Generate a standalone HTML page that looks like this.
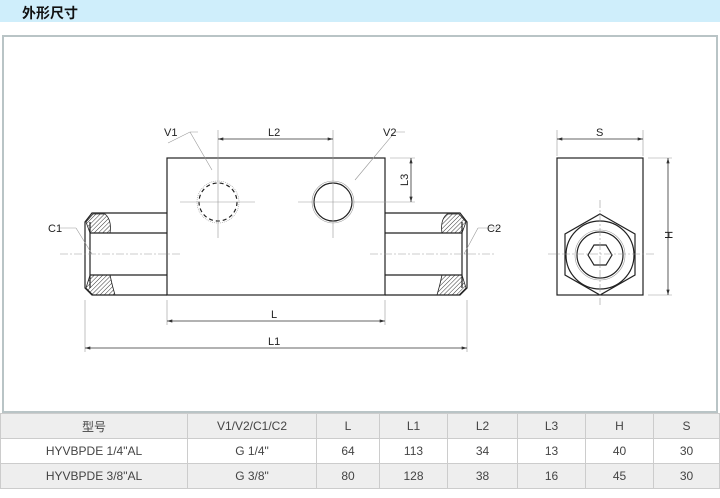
<!DOCTYPE html>
<html><head><meta charset="utf-8"><style>
body{margin:0;width:720px;height:498px;background:#fff;font-family:"Liberation Sans","Noto Sans CJK SC",sans-serif;overflow:hidden;position:relative}
.hd{position:absolute;left:0;top:0;width:720px;height:22px;background:#cfeefb}
.hd span{position:absolute;left:22px;top:3px;font-size:14px;font-weight:bold;color:#111}
.fr{position:absolute;left:2px;top:35px;width:712px;height:374px;border:2px solid #b9c4c6}
table{position:absolute;left:0;top:413px;width:720px;border-collapse:collapse;font-size:12px;color:#444}
td{border:1px solid #ccc;text-align:center;height:24px;padding:0}
tr.g td{background:#eee}
</style></head><body>
<div class="hd"><span>外形尺寸</span></div>
<div class="fr"></div>
<svg style="position:absolute;left:0;top:0" width="720" height="498" font-family="Liberation Sans, sans-serif" font-size="11" fill="none">
<defs><pattern id="h" width="3" height="3" patternUnits="userSpaceOnUse" patternTransform="rotate(45)"><line x1="0" y1="0" x2="0" y2="3" stroke="#333" stroke-width="1"/></pattern>
<marker id="a" viewBox="0 0 10 6" refX="10" refY="3" markerWidth="8" markerHeight="4" orient="auto-start-reverse"><path d="M0,0L10,3L0,6z" fill="#333"/></marker></defs>
<g stroke="#222" stroke-width="1.2">
<rect x="167" y="158" width="218" height="137"/>
<path d="M167,213H92L85,222V288L92,295H167M167,233H90M167,275H90M90,222V288"/>
<path d="M385,213H460L467,222V288L460,295H385M385,233H462M385,275H462M462,222V288"/>
<circle cx="333" cy="202" r="19"/>
<circle cx="218" cy="202" r="19" stroke-dasharray="4,3"/>
<rect x="557" y="158" width="86" height="137"/>
<polygon points="600,214 635,234 635,275 600,295 565,275 565,234"/>
<circle cx="600" cy="255" r="34"/>
<circle cx="600" cy="255" r="23"/>
<polygon points="588,255 594,245 606,245 612,255 606,265 594,265"/>
</g>
<g fill="url(#h)" stroke="#222" stroke-width="0.8">
<path d="M86,222L93,214H105Q112,220 110,233H90Z"/><path d="M86,288L93,295H115Q112,285 110,275H90Z"/>
<path d="M466,222L459,214H447Q440,220 442,233H462Z"/><path d="M466,288L459,295H437Q440,285 442,275H462Z"/>
</g>
<g stroke="#999" stroke-width="0.6">
<circle cx="333" cy="202" r="21"/><circle cx="218" cy="202" r="21" stroke-dasharray="1,1"/><circle cx="600" cy="255" r="25"/>
<path d="M218,130V238M180,202H255M333,130V238M298,202H370M167,300V325M385,300V325M85,300V352M467,300V352M390,158H415M355,202H415M557,130V156M643,130V156M648,158H672M648,295H672"/>
<path d="M60,254H180M370,254H495M548,254H655M600,200V305" stroke-dasharray="8,2,2,2"/>
<path d="M168,143L190,132H198M190,132L212,170M405,132L395,132L355,180M76,228H60M76,228L92,254M478,228H500M478,228L464,254"/>
</g>
<g stroke="#333" stroke-width="0.8">
<line x1="218" y1="139" x2="333" y2="139" marker-start="url(#a)" marker-end="url(#a)"/>
<line x1="167" y1="321" x2="385" y2="321" marker-start="url(#a)" marker-end="url(#a)"/>
<line x1="85" y1="348" x2="467" y2="348" marker-start="url(#a)" marker-end="url(#a)"/>
<line x1="411" y1="158" x2="411" y2="202" marker-start="url(#a)" marker-end="url(#a)"/>
<line x1="557" y1="139" x2="643" y2="139" marker-start="url(#a)" marker-end="url(#a)"/>
<line x1="668" y1="158" x2="668" y2="295" marker-start="url(#a)" marker-end="url(#a)"/>
</g>
<g fill="#222" stroke="none">
<text x="164" y="136">V1</text><text x="383" y="136">V2</text><text x="268" y="136">L2</text>
<text x="271" y="318">L</text><text x="268" y="345">L1</text>
<text x="48" y="232">C1</text><text x="487" y="232">C2</text>
<text x="596" y="136">S</text>
<text transform="translate(408,186) rotate(-90)">L3</text>
<text transform="translate(665,231) rotate(90)">H</text>
</g>
</svg>
<table>
<tr class="g"><td style="width:186px">型号</td><td style="width:128px">V1/V2/C1/C2</td><td style="width:62px">L</td><td style="width:67px">L1</td><td style="width:69px">L2</td><td style="width:67px">L3</td><td style="width:67px">H</td><td>S</td></tr>
<tr><td>HYVBPDE 1/4"AL</td><td>G 1/4"</td><td>64</td><td>113</td><td>34</td><td>13</td><td>40</td><td>30</td></tr>
<tr class="g"><td>HYVBPDE 3/8"AL</td><td>G 3/8"</td><td>80</td><td>128</td><td>38</td><td>16</td><td>45</td><td>30</td></tr>
</table>
</body></html>
